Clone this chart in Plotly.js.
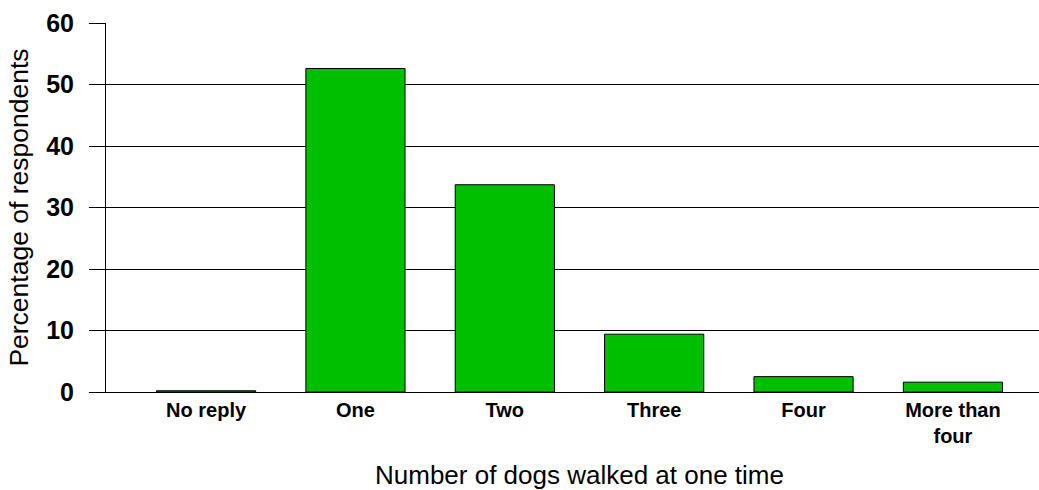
<!DOCTYPE html>
<html>
<head>
<meta charset="utf-8">
<script src="https://cdn.plot.ly/plotly-3.0.1.min.js"></script>
<style>
html,body{margin:0;padding:0;overflow:hidden;background:#fff;}
#chart{width:1053px;height:490px;}
</style>
</head>
<body>
<div id="chart"></div>
<script>
const categories = ["No reply", "One", "Two", "Three", "Four", "More than<br>four"];
const percentages = [0.2, 52.6, 33.7, 9.4, 2.5, 1.6];
const yTickValues = [0, 10, 20, 30, 40, 50, 60];

const trace = {
  type: 'bar',
  x: categories,
  y: percentages,
  marker: {color: '#00be00', line: {color: '#000000', width: 1}},
  hoverinfo: 'x+y'
};

const layout = {
  width: 1053,
  height: 490,
  margin: {l: 106, r: 0, t: 23, b: 98},
  paper_bgcolor: '#ffffff',
  plot_bgcolor: '#ffffff',
  bargap: 0.336,
  showlegend: false,
  font: {family: 'Liberation Sans, Arial, sans-serif', color: '#000000'},
  xaxis: {
    type: 'category',
    range: [-0.67, 5.67],
    showline: true,
    linecolor: '#000000',
    linewidth: 1,
    ticks: '',
    showgrid: false,
    zeroline: false,
    tickfont: {family: 'Liberation Sans, Arial, sans-serif', size: 20, weight: 'bold', color: '#000000'},
    title: {text: 'Number of dogs walked at one time', font: {size: 26, color: '#000000'}, standoff: 24},
    automargin: false
  },
  yaxis: {
    range: [0, 60],
    tickvals: yTickValues,
    ticktext: yTickValues.map(String),
    showline: true,
    linecolor: '#000000',
    linewidth: 1,
    ticks: 'outside',
    ticklen: 16,
    tickcolor: '#000000',
    tickwidth: 1,
    showgrid: true,
    gridcolor: '#000000',
    gridwidth: 1,
    zeroline: false,
    ticklabelstandoff: 10,
    tickfont: {family: 'Liberation Sans, Arial, sans-serif', size: 25, weight: 'bold', color: '#000000'},
    title: {text: 'Percentage of respondents', font: {size: 26.5, color: '#000000'}, standoff: 9},
    automargin: false
  }
};

Plotly.newPlot('chart', [trace], layout, {staticPlot: true, displayModeBar: false});
</script>
</body>
</html>
